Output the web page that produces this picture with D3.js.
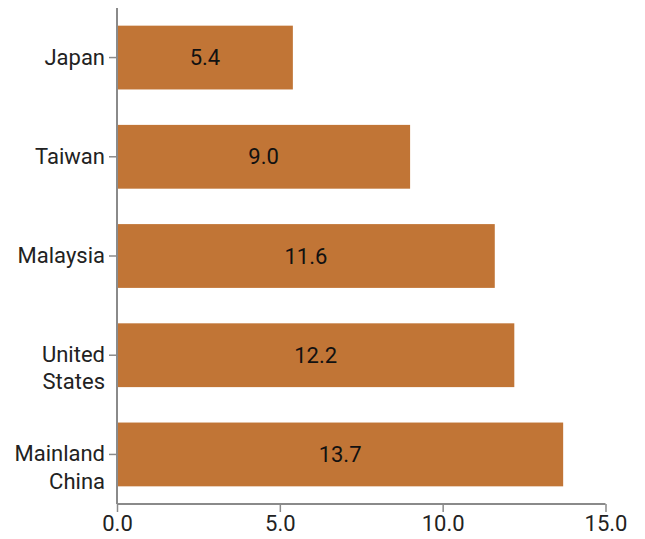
<!DOCTYPE html>
<html><head><meta charset="utf-8">
<script src="https://cdn.jsdelivr.net/npm/d3@7"></script>
<style>
body{margin:0;background:#fff;}
text{font-family:Roboto,"Noto Sans",sans-serif;}
</style></head>
<body><svg id="c" width="645" height="539"></svg>
<script>
const categories = ["Japan", "Taiwan", "Malaysia", "United States", "Mainland China"];
const values = [5.4, 9.0, 11.6, 12.2, 13.7];
const xTicks = [0, 5, 10, 15];

const W = 645, H = 539;
const m = {top: 8, right: 40, bottom: 35, left: 117};
const svg = d3.select("#c");
const g = svg.append("g").attr("transform", `translate(${m.left},${m.top})`);
const iw = W - m.left - m.right, ih = H - m.top - m.bottom;

const x = d3.scaleLinear().domain([0, 15]).range([0, 488.5]);
const y = d3.scaleBand().domain(categories).range([0, ih]).paddingInner(0.357).paddingOuter(0.178);

g.selectAll("rect.bar").data(categories).join("rect")
  .attr("class", "bar")
  .attr("x", 1)
  .attr("y", d => y(d))
  .attr("height", y.bandwidth())
  .attr("width", (d, i) => x(values[i]) - 1)
  .attr("fill", "#c17536");

g.selectAll("text.val").data(categories).join("text")
  .attr("class", "val")
  .attr("x", (d, i) => x(values[i]) / 2)
  .attr("y", d => y(d) + y.bandwidth() / 2)
  .attr("dy", "0.35em")
  .attr("text-anchor", "middle")
  .attr("font-size", 22)
  .attr("fill", "#111")
  .text((d, i) => values[i].toFixed(1));

const xa = g.append("g").attr("transform", `translate(0,${ih})`)
  .call(d3.axisBottom(x).tickValues(xTicks).tickFormat(d3.format(".1f")).tickSize(8).tickPadding(3));
const ya = g.append("g")
  .call(d3.axisLeft(y).tickSize(8).tickPadding(4));

[xa, ya].forEach(a => {
  a.select(".domain").attr("stroke", "#8a8a8a").attr("stroke-width", 2);
  a.selectAll(".tick line").attr("stroke", "#8a8a8a").attr("stroke-width", 1.5);
  a.selectAll(".tick text").attr("font-size", 22).attr("fill", "#222").attr("font-family", "Roboto, sans-serif");
});
xa.select(".domain").attr("d", `M0,0H${x(15)}`);
ya.select(".domain").attr("d", `M0,0V${ih}`);

ya.selectAll(".tick text").each(function(d) {
  const t = d3.select(this);
  const words = d.split(" ");
  t.text(null);
  words.forEach((w, i) => {
    t.append("tspan").attr("x", -12).attr("dy", i === 0 ? "0.32em" : "1.23em").text(w);
  });
});
</script></body></html>
